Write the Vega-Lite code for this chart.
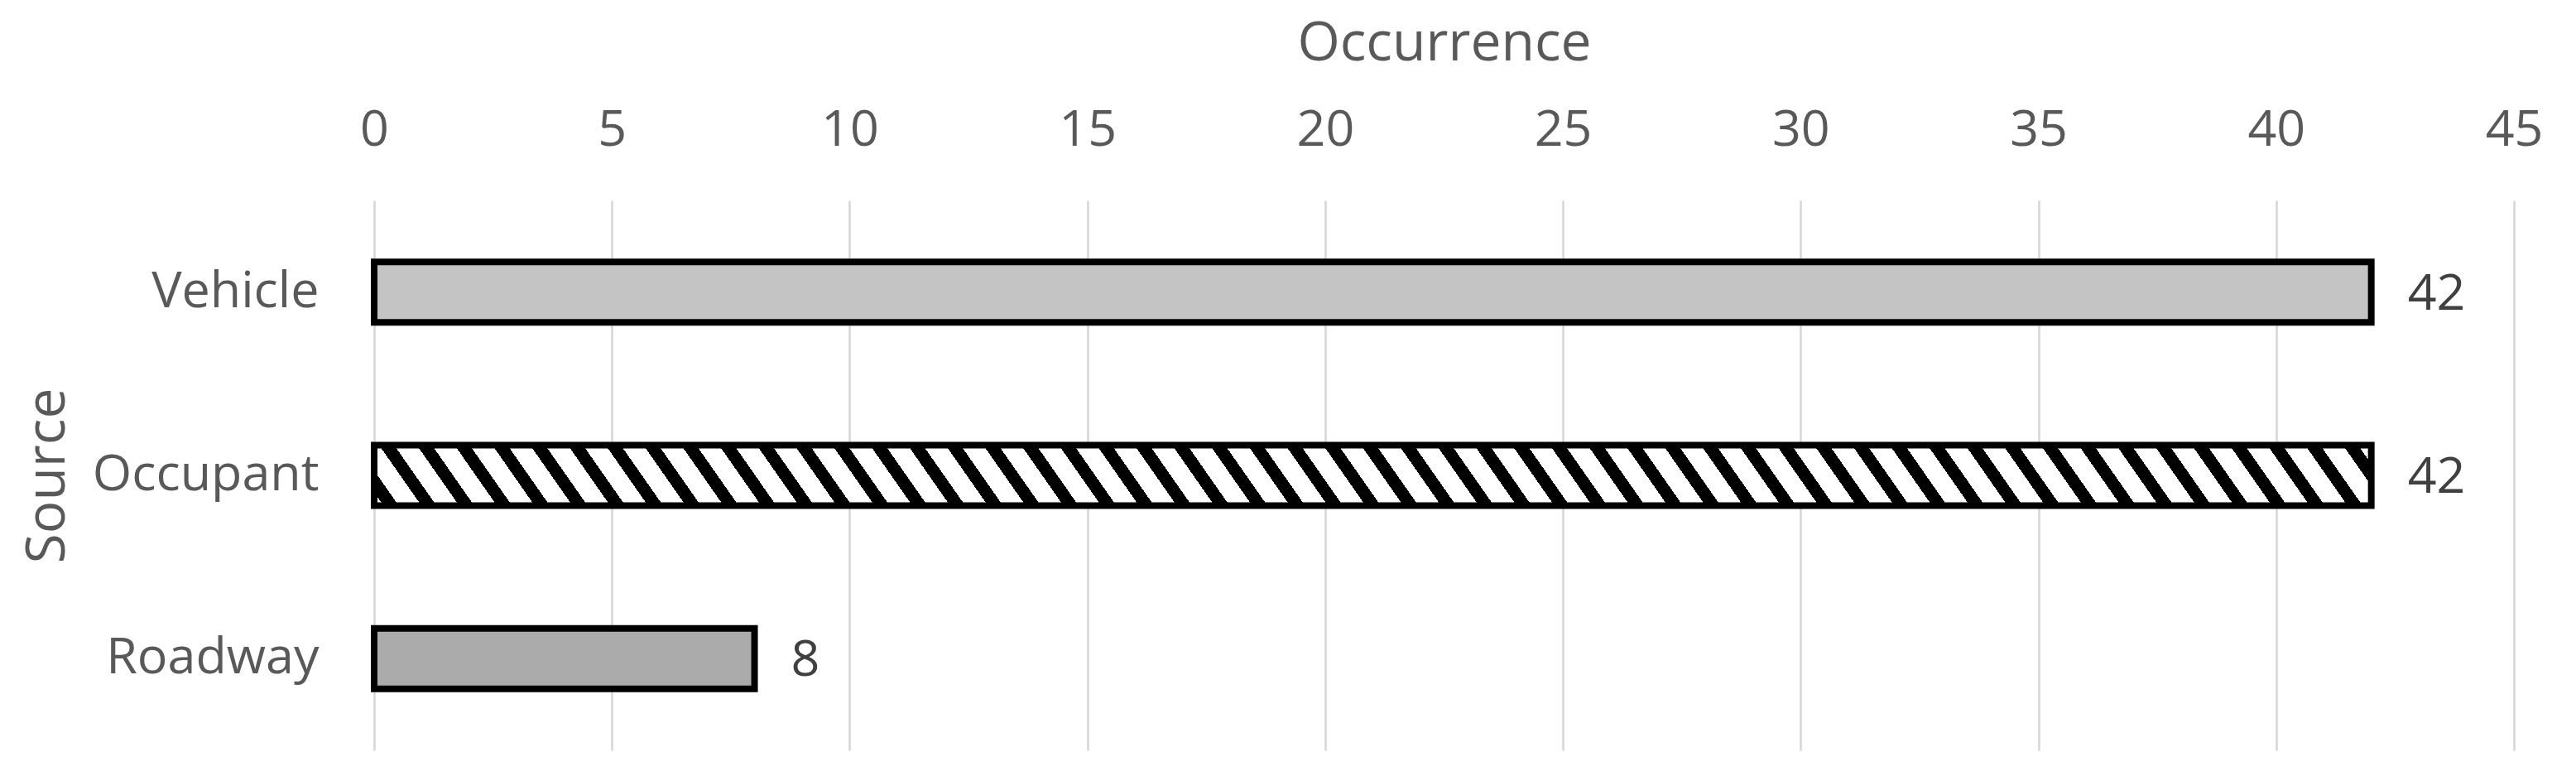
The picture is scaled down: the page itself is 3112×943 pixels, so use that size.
{
  "$schema": "https://vega.github.io/schema/vega-lite/v6.json",
  "width": 2585,
  "height": 664,
  "autosize": {"type": "none"},
  "padding": {"left": 452, "top": 242, "right": 75, "bottom": 37},
  "background": "white",
  "config": {
    "view": {"stroke": null},
    "font": "Open Sans",
    "axis": {
      "labelFont": "Open Sans",
      "titleFont": "Open Sans",
      "labelColor": "#595959",
      "titleColor": "#595959",
      "labelFontSize": 61,
      "titleFontSize": 66,
      "titleFontWeight": "normal",
      "labelLimit": 0,
      "ticks": false,
      "domain": false,
      "gridColor": "#d6d6d6",
      "gridWidth": 2.5
    }
  },
  "data": {
    "values": [
      {"Source": "Vehicle", "Occurrence": 42},
      {"Source": "Occupant", "Occurrence": 42},
      {"Source": "Roadway", "Occurrence": 8}
    ]
  },
  "encoding": {
    "y": {
      "field": "Source",
      "type": "nominal",
      "sort": ["Vehicle", "Occupant", "Roadway"],
      "scale": {"paddingInner": 0.67, "paddingOuter": 0.335},
      "axis": {
        "title": "Source",
        "grid": false,
        "labelPadding": 67,
        "labelLimit": 0,
        "titleX": -375,
        "titleY": 332,
        "titleAngle": -90,
        "titleAlign": "center",
        "titleBaseline": "alphabetic"
      }
    },
    "x": {
      "field": "Occurrence",
      "type": "quantitative",
      "scale": {"domain": [0, 45], "nice": false, "zero": true},
      "axis": {
        "orient": "top",
        "title": "Occurrence",
        "values": [0, 5, 10, 15, 20, 25, 30, 35, 40, 45],
        "grid": true,
        "labelFlush": false,
        "labelOverlap": false,
        "labelBaseline": "alphabetic",
        "labelPadding": 67,
        "titleX": 1292.5,
        "titleY": -170,
        "titleAlign": "center",
        "titleBaseline": "alphabetic"
      }
    }
  },
  "layer": [
    {
      "transform": [{"filter": "datum.Source === 'Vehicle'"}],
      "mark": {"type": "bar", "fill": "#c4c4c4", "stroke": "#000000", "strokeWidth": 8, "strokeJoin": "miter"}
    },
    {
      "transform": [{"filter": "datum.Source === 'Roadway'"}],
      "mark": {"type": "bar", "fill": "#ababab", "stroke": "#000000", "strokeWidth": 8, "strokeJoin": "miter"}
    },
    {
      "transform": [{"filter": "datum.Source === 'Occupant'"}],
      "mark": {
        "type": "bar",
        "stroke": "#000000",
        "strokeWidth": 8,
        "strokeJoin": "miter",
        "fill": {
          "gradient": "linear",
          "x1": 0, "y1": 1, "x2": 1.02072, "y2": 0.97838,
          "stops": [
            {"offset": 0, "color": "#fff"},
            {"offset": 0.00463, "color": "#fff"}, {"offset": 0.00463, "color": "#000"}, {"offset": 0.01204, "color": "#000"}, {"offset": 0.01204, "color": "#fff"},
            {"offset": 0.02315, "color": "#fff"}, {"offset": 0.02315, "color": "#000"}, {"offset": 0.03056, "color": "#000"}, {"offset": 0.03056, "color": "#fff"},
            {"offset": 0.04167, "color": "#fff"}, {"offset": 0.04167, "color": "#000"}, {"offset": 0.04907, "color": "#000"}, {"offset": 0.04907, "color": "#fff"},
            {"offset": 0.06019, "color": "#fff"}, {"offset": 0.06019, "color": "#000"}, {"offset": 0.06759, "color": "#000"}, {"offset": 0.06759, "color": "#fff"},
            {"offset": 0.07870, "color": "#fff"}, {"offset": 0.07870, "color": "#000"}, {"offset": 0.08611, "color": "#000"}, {"offset": 0.08611, "color": "#fff"},
            {"offset": 0.09722, "color": "#fff"}, {"offset": 0.09722, "color": "#000"}, {"offset": 0.10463, "color": "#000"}, {"offset": 0.10463, "color": "#fff"},
            {"offset": 0.11574, "color": "#fff"}, {"offset": 0.11574, "color": "#000"}, {"offset": 0.12315, "color": "#000"}, {"offset": 0.12315, "color": "#fff"},
            {"offset": 0.13426, "color": "#fff"}, {"offset": 0.13426, "color": "#000"}, {"offset": 0.14167, "color": "#000"}, {"offset": 0.14167, "color": "#fff"},
            {"offset": 0.15278, "color": "#fff"}, {"offset": 0.15278, "color": "#000"}, {"offset": 0.16019, "color": "#000"}, {"offset": 0.16019, "color": "#fff"},
            {"offset": 0.17130, "color": "#fff"}, {"offset": 0.17130, "color": "#000"}, {"offset": 0.17870, "color": "#000"}, {"offset": 0.17870, "color": "#fff"},
            {"offset": 0.18981, "color": "#fff"}, {"offset": 0.18981, "color": "#000"}, {"offset": 0.19722, "color": "#000"}, {"offset": 0.19722, "color": "#fff"},
            {"offset": 0.20833, "color": "#fff"}, {"offset": 0.20833, "color": "#000"}, {"offset": 0.21574, "color": "#000"}, {"offset": 0.21574, "color": "#fff"},
            {"offset": 0.22685, "color": "#fff"}, {"offset": 0.22685, "color": "#000"}, {"offset": 0.23426, "color": "#000"}, {"offset": 0.23426, "color": "#fff"},
            {"offset": 0.24537, "color": "#fff"}, {"offset": 0.24537, "color": "#000"}, {"offset": 0.25278, "color": "#000"}, {"offset": 0.25278, "color": "#fff"},
            {"offset": 0.26389, "color": "#fff"}, {"offset": 0.26389, "color": "#000"}, {"offset": 0.27130, "color": "#000"}, {"offset": 0.27130, "color": "#fff"},
            {"offset": 0.28241, "color": "#fff"}, {"offset": 0.28241, "color": "#000"}, {"offset": 0.28981, "color": "#000"}, {"offset": 0.28981, "color": "#fff"},
            {"offset": 0.30093, "color": "#fff"}, {"offset": 0.30093, "color": "#000"}, {"offset": 0.30833, "color": "#000"}, {"offset": 0.30833, "color": "#fff"},
            {"offset": 0.31944, "color": "#fff"}, {"offset": 0.31944, "color": "#000"}, {"offset": 0.32685, "color": "#000"}, {"offset": 0.32685, "color": "#fff"},
            {"offset": 0.33796, "color": "#fff"}, {"offset": 0.33796, "color": "#000"}, {"offset": 0.34537, "color": "#000"}, {"offset": 0.34537, "color": "#fff"},
            {"offset": 0.35648, "color": "#fff"}, {"offset": 0.35648, "color": "#000"}, {"offset": 0.36389, "color": "#000"}, {"offset": 0.36389, "color": "#fff"},
            {"offset": 0.37500, "color": "#fff"}, {"offset": 0.37500, "color": "#000"}, {"offset": 0.38241, "color": "#000"}, {"offset": 0.38241, "color": "#fff"},
            {"offset": 0.39352, "color": "#fff"}, {"offset": 0.39352, "color": "#000"}, {"offset": 0.40093, "color": "#000"}, {"offset": 0.40093, "color": "#fff"},
            {"offset": 0.41204, "color": "#fff"}, {"offset": 0.41204, "color": "#000"}, {"offset": 0.41944, "color": "#000"}, {"offset": 0.41944, "color": "#fff"},
            {"offset": 0.43056, "color": "#fff"}, {"offset": 0.43056, "color": "#000"}, {"offset": 0.43796, "color": "#000"}, {"offset": 0.43796, "color": "#fff"},
            {"offset": 0.44907, "color": "#fff"}, {"offset": 0.44907, "color": "#000"}, {"offset": 0.45648, "color": "#000"}, {"offset": 0.45648, "color": "#fff"},
            {"offset": 0.46759, "color": "#fff"}, {"offset": 0.46759, "color": "#000"}, {"offset": 0.47500, "color": "#000"}, {"offset": 0.47500, "color": "#fff"},
            {"offset": 0.48611, "color": "#fff"}, {"offset": 0.48611, "color": "#000"}, {"offset": 0.49352, "color": "#000"}, {"offset": 0.49352, "color": "#fff"},
            {"offset": 0.50463, "color": "#fff"}, {"offset": 0.50463, "color": "#000"}, {"offset": 0.51204, "color": "#000"}, {"offset": 0.51204, "color": "#fff"},
            {"offset": 0.52315, "color": "#fff"}, {"offset": 0.52315, "color": "#000"}, {"offset": 0.53056, "color": "#000"}, {"offset": 0.53056, "color": "#fff"},
            {"offset": 0.54167, "color": "#fff"}, {"offset": 0.54167, "color": "#000"}, {"offset": 0.54907, "color": "#000"}, {"offset": 0.54907, "color": "#fff"},
            {"offset": 0.56019, "color": "#fff"}, {"offset": 0.56019, "color": "#000"}, {"offset": 0.56759, "color": "#000"}, {"offset": 0.56759, "color": "#fff"},
            {"offset": 0.57870, "color": "#fff"}, {"offset": 0.57870, "color": "#000"}, {"offset": 0.58611, "color": "#000"}, {"offset": 0.58611, "color": "#fff"},
            {"offset": 0.59722, "color": "#fff"}, {"offset": 0.59722, "color": "#000"}, {"offset": 0.60463, "color": "#000"}, {"offset": 0.60463, "color": "#fff"},
            {"offset": 0.61574, "color": "#fff"}, {"offset": 0.61574, "color": "#000"}, {"offset": 0.62315, "color": "#000"}, {"offset": 0.62315, "color": "#fff"},
            {"offset": 0.63426, "color": "#fff"}, {"offset": 0.63426, "color": "#000"}, {"offset": 0.64167, "color": "#000"}, {"offset": 0.64167, "color": "#fff"},
            {"offset": 0.65278, "color": "#fff"}, {"offset": 0.65278, "color": "#000"}, {"offset": 0.66019, "color": "#000"}, {"offset": 0.66019, "color": "#fff"},
            {"offset": 0.67130, "color": "#fff"}, {"offset": 0.67130, "color": "#000"}, {"offset": 0.67870, "color": "#000"}, {"offset": 0.67870, "color": "#fff"},
            {"offset": 0.68981, "color": "#fff"}, {"offset": 0.68981, "color": "#000"}, {"offset": 0.69722, "color": "#000"}, {"offset": 0.69722, "color": "#fff"},
            {"offset": 0.70833, "color": "#fff"}, {"offset": 0.70833, "color": "#000"}, {"offset": 0.71574, "color": "#000"}, {"offset": 0.71574, "color": "#fff"},
            {"offset": 0.72685, "color": "#fff"}, {"offset": 0.72685, "color": "#000"}, {"offset": 0.73426, "color": "#000"}, {"offset": 0.73426, "color": "#fff"},
            {"offset": 0.74537, "color": "#fff"}, {"offset": 0.74537, "color": "#000"}, {"offset": 0.75278, "color": "#000"}, {"offset": 0.75278, "color": "#fff"},
            {"offset": 0.76389, "color": "#fff"}, {"offset": 0.76389, "color": "#000"}, {"offset": 0.77130, "color": "#000"}, {"offset": 0.77130, "color": "#fff"},
            {"offset": 0.78241, "color": "#fff"}, {"offset": 0.78241, "color": "#000"}, {"offset": 0.78981, "color": "#000"}, {"offset": 0.78981, "color": "#fff"},
            {"offset": 0.80093, "color": "#fff"}, {"offset": 0.80093, "color": "#000"}, {"offset": 0.80833, "color": "#000"}, {"offset": 0.80833, "color": "#fff"},
            {"offset": 0.81944, "color": "#fff"}, {"offset": 0.81944, "color": "#000"}, {"offset": 0.82685, "color": "#000"}, {"offset": 0.82685, "color": "#fff"},
            {"offset": 0.83796, "color": "#fff"}, {"offset": 0.83796, "color": "#000"}, {"offset": 0.84537, "color": "#000"}, {"offset": 0.84537, "color": "#fff"},
            {"offset": 0.85648, "color": "#fff"}, {"offset": 0.85648, "color": "#000"}, {"offset": 0.86389, "color": "#000"}, {"offset": 0.86389, "color": "#fff"},
            {"offset": 0.87500, "color": "#fff"}, {"offset": 0.87500, "color": "#000"}, {"offset": 0.88241, "color": "#000"}, {"offset": 0.88241, "color": "#fff"},
            {"offset": 0.89352, "color": "#fff"}, {"offset": 0.89352, "color": "#000"}, {"offset": 0.90093, "color": "#000"}, {"offset": 0.90093, "color": "#fff"},
            {"offset": 0.91204, "color": "#fff"}, {"offset": 0.91204, "color": "#000"}, {"offset": 0.91944, "color": "#000"}, {"offset": 0.91944, "color": "#fff"},
            {"offset": 0.93056, "color": "#fff"}, {"offset": 0.93056, "color": "#000"}, {"offset": 0.93796, "color": "#000"}, {"offset": 0.93796, "color": "#fff"},
            {"offset": 0.94907, "color": "#fff"}, {"offset": 0.94907, "color": "#000"}, {"offset": 0.95648, "color": "#000"}, {"offset": 0.95648, "color": "#fff"},
            {"offset": 0.96759, "color": "#fff"}, {"offset": 0.96759, "color": "#000"}, {"offset": 0.97500, "color": "#000"}, {"offset": 0.97500, "color": "#fff"},
            {"offset": 0.98611, "color": "#fff"}, {"offset": 0.98611, "color": "#000"}, {"offset": 0.99352, "color": "#000"}, {"offset": 0.99352, "color": "#fff"},
            {"offset": 1, "color": "#fff"}
          ]
        }
      }
    },
    {
      "mark": {
        "type": "text",
        "align": "left",
        "baseline": "middle",
        "dx": 44,
        "dy": 3,
        "font": "Open Sans",
        "fontSize": 61,
        "color": "#404040"
      },
      "encoding": {
        "text": {"field": "Occurrence", "type": "quantitative"}
      }
    }
  ]
}
